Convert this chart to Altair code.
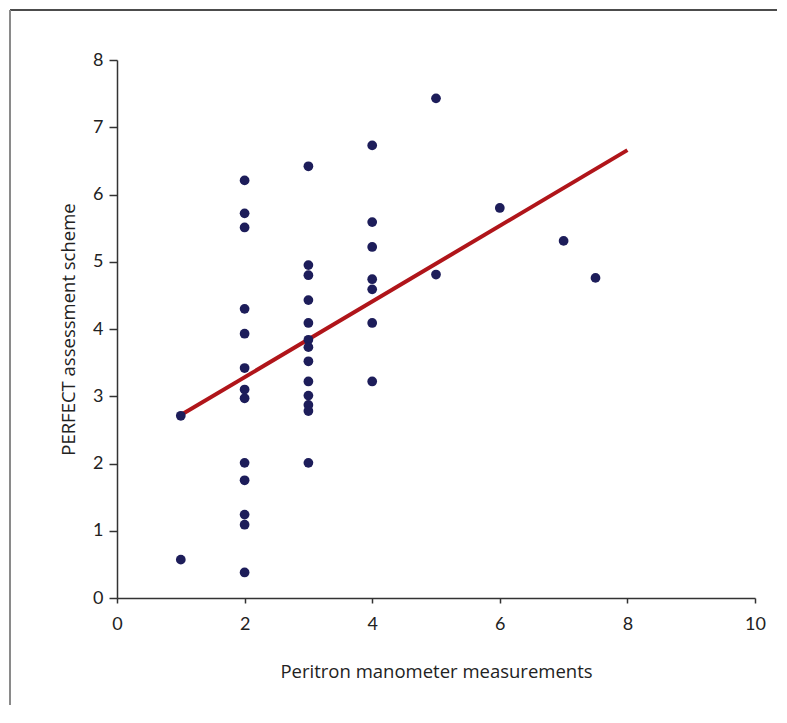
import altair as alt
import pandas as pd

# scatter data
pt_x = [1, 1,
        2, 2, 2, 2, 2, 2, 2, 2, 2, 2, 2, 2, 2,
        3, 3, 3, 3, 3, 3, 3, 3, 3, 3, 3, 3, 3,
        4, 4, 4, 4, 4, 4, 4,
        5, 5, 6, 7, 7.5]
pt_y = [2.71, 0.57,
        6.21, 5.72, 5.51, 4.30, 3.93, 3.42, 3.10, 2.97, 2.01, 1.75, 1.24, 1.09, 0.38,
        6.42, 4.95, 4.80, 4.43, 4.09, 3.84, 3.73, 3.52, 3.22, 3.01, 2.87, 2.78, 2.01,
        6.73, 5.59, 5.22, 4.74, 4.59, 4.09, 3.22,
        7.43, 4.81, 5.80, 5.31, 4.76]

# regression line end points
line_x = [1, 8]
line_y = [2.72, 6.66]

x_ticks = [0, 2, 4, 6, 8, 10]
y_ticks = [0, 1, 2, 3, 4, 5, 6, 7, 8]

pts = pd.DataFrame({"x": pt_x, "y": pt_y})
ln = pd.DataFrame({"x": line_x, "y": line_y})

xs = alt.Scale(domain=[0, 10], nice=False)
ys = alt.Scale(domain=[0, 8], nice=False)

x_axis = alt.Axis(title="Peritron manometer measurements", values=x_ticks, format="d",
                  tickSize=5, labelPadding=12, titlePadding=29, labelFlush=False)
y_axis = alt.Axis(title="PERFECT assessment scheme", values=y_ticks, format="d",
                  tickSize=8, labelPadding=6, titlePadding=14, labelFlush=False)

line = alt.Chart(ln).mark_line(color="#b0151a", strokeWidth=4).encode(
    x=alt.X("x:Q", scale=xs, axis=x_axis),
    y=alt.Y("y:Q", scale=ys, axis=y_axis),
)

points = alt.Chart(pts).mark_circle(size=95, color="#1d1d5a", opacity=1).encode(
    x=alt.X("x:Q", scale=xs),
    y=alt.Y("y:Q", scale=ys),
)

one = pd.DataFrame({"a": [0]})
frame_top = alt.Chart(one).mark_rule(color="#111111", strokeWidth=1.5).encode(
    x=alt.value(-107), x2=alt.value(660), y=alt.value(-50), y2=alt.value(-50)
)
frame_left = alt.Chart(one).mark_rule(color="#8a8a8a", strokeWidth=2).encode(
    x=alt.value(-107), x2=alt.value(-107), y=alt.value(-50), y2=alt.value(645)
)

chart = alt.layer(frame_top, frame_left, line, points).properties(
    width=638, height=538, padding=1
).configure_view(stroke=None).configure_axis(
    grid=False,
    domainColor="#333333",
    domainWidth=1.5,
    tickColor="#333333",
    tickWidth=1.5,
    labelColor="#222222",
    titleColor="#222222",
    labelFont="Lato",
    titleFont="Open Sans",
    labelFontSize=18,
    titleFontSize=18.5,
    titleFontWeight="normal",
)

chart.save("out.html", embed_options={"renderer": "svg", "actions": False})
